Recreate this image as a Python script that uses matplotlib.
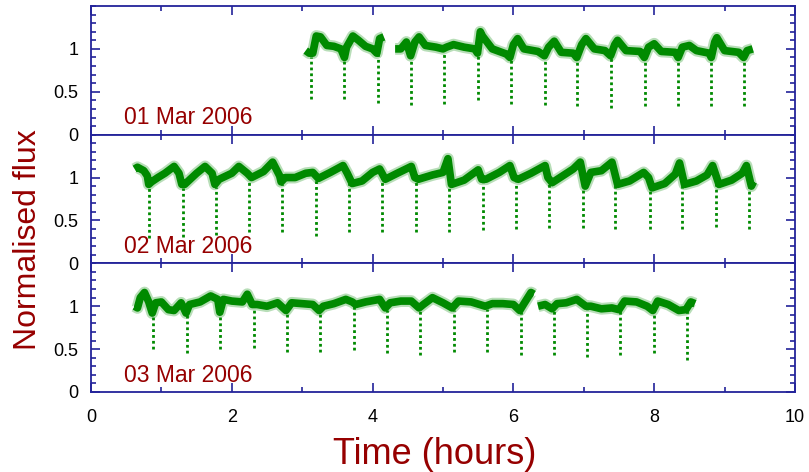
import numpy as np
import matplotlib
matplotlib.use('Agg')
import matplotlib.pyplot as plt
from matplotlib.ticker import MultipleLocator, FixedLocator

plt.rcParams['font.family'] = ['Liberation Sans', 'DejaVu Sans']

# ---------------- data ----------------
dates = ['01 Mar 2006', '02 Mar 2006', '03 Mar 2006']

# out-of-eclipse light curve (centre of the scatter band); nan = data gap
day1_time = [3.05, 3.10, 3.15, 3.20, 3.26, 3.35, 3.45, 3.55, 3.60, 3.63, 3.72, 3.80, 3.90, 4.00,
             4.06, 4.10, 4.16, 4.24, 4.32, 4.40, 4.48, 4.54, 4.60, 4.66, 4.75, 4.90, 5.00, 5.05,
             5.15, 5.30, 5.45, 5.49, 5.53, 5.56, 5.70, 5.90, 5.95, 6.00, 6.06, 6.15, 6.35, 6.44,
             6.50, 6.58, 6.68, 6.85, 6.90, 6.97, 7.03, 7.15, 7.30, 7.38, 7.44, 7.48, 7.60, 7.80,
             7.86, 7.92, 8.00, 8.10, 8.30, 8.34, 8.40, 8.50, 8.60, 8.78, 8.81, 8.86, 8.89, 9.00,
             9.20, 9.27, 9.32, 9.40]
day1_flux = [0.98, 0.95, 0.95, 1.15, 1.14, 1.04, 1.03, 1.00, 0.90, 1.02, 1.15, 1.10, 1.03, 1.00,
             0.95, 1.12, 1.14, np.nan, 1.00, 1.00, 1.08, 0.92, 1.08, 1.14, 1.04, 1.02, 1.00, 1.02,
             1.05, 1.02, 1.00, 0.95, 1.20, 1.15, 1.00, 0.94, 0.90, 1.05, 1.12, 1.00, 0.97, 0.92,
             1.02, 1.09, 0.96, 0.95, 0.90, 1.05, 1.12, 1.00, 0.98, 0.92, 1.05, 1.10, 0.98, 0.97,
             0.90, 1.02, 1.06, 0.97, 0.96, 0.90, 1.02, 1.04, 0.98, 0.95, 0.90, 1.08, 1.13, 0.98,
             0.96, 0.90, 0.98, 1.00]

day2_time = [0.62, 0.66, 0.75, 0.80, 0.82, 0.86, 0.95, 1.05, 1.18, 1.25, 1.29, 1.33, 1.50, 1.62,
             1.72, 1.76, 1.82, 2.00, 2.10, 2.22, 2.28, 2.45, 2.58, 2.68, 2.70, 2.76, 2.90, 3.05,
             3.15, 3.23, 3.40, 3.58, 3.64, 3.71, 3.85, 4.00, 4.10, 4.18, 4.35, 4.55, 4.60, 4.65,
             4.85, 5.00, 5.07, 5.12, 5.30, 5.50, 5.55, 5.61, 5.80, 5.95, 6.01, 6.07, 6.25, 6.45,
             6.49, 6.55, 6.70, 6.85, 6.95, 7.02, 7.10, 7.25, 7.40, 7.48, 7.65, 7.85, 7.92, 7.97,
             8.15, 8.30, 8.36, 8.43, 8.60, 8.75, 8.83, 8.92, 9.10, 9.25, 9.31, 9.38, 9.41]
day2_flux = [1.10, 1.12, 1.08, 1.02, 0.92, 0.95, 1.00, 1.05, 1.13, 1.05, 0.92, 0.92, 1.05, 1.13,
             1.05, 0.92, 0.98, 1.05, 1.13, 1.05, 1.00, 1.07, 1.18, 1.02, 0.95, 1.00, 1.00, 1.05,
             1.06, 0.99, 1.06, 1.14, 1.05, 0.93, 0.96, 1.06, 1.10, 0.98, 1.05, 1.13, 1.00, 0.98,
             1.03, 1.06, 1.22, 0.92, 0.97, 1.09, 0.98, 0.98, 1.06, 1.14, 1.00, 0.98, 1.05, 1.14,
             1.00, 0.94, 1.02, 1.10, 1.18, 0.90, 1.06, 1.08, 1.18, 0.92, 0.96, 1.06, 1.00, 0.88,
             0.93, 1.04, 1.17, 0.92, 0.96, 1.03, 1.14, 0.92, 0.97, 1.05, 1.14, 0.90, 0.95]

day3_time = [0.62, 0.66, 0.70, 0.76, 0.82, 0.87, 0.92, 1.00, 1.10, 1.18, 1.28, 1.35, 1.40, 1.55,
             1.70, 1.80, 1.83, 1.88, 2.00, 2.15, 2.22, 2.29, 2.36, 2.50, 2.65, 2.77, 2.85, 3.00,
             3.15, 3.24, 3.30, 3.45, 3.62, 3.71, 3.76, 3.90, 4.10, 4.18, 4.25, 4.40, 4.55, 4.66,
             4.72, 4.85, 5.00, 5.13, 5.22, 5.40, 5.60, 5.70, 5.85, 6.00, 6.09, 6.15, 6.25, 6.29,
             6.32, 6.35, 6.45, 6.55, 6.62, 6.75, 6.90, 7.03, 7.10, 7.25, 7.40, 7.50, 7.58, 7.75,
             7.90, 7.98, 8.05, 8.20, 8.35, 8.45, 8.52, 8.58]
day3_flux = [1.00, 0.98, 1.10, 1.16, 1.05, 0.92, 1.04, 1.05, 0.96, 0.95, 1.04, 0.92, 1.02, 1.05,
             1.12, 1.08, 0.93, 1.08, 1.06, 1.05, 1.14, 1.02, 1.02, 1.00, 1.04, 0.95, 1.04, 1.03,
             1.02, 0.95, 1.00, 1.03, 1.08, 1.05, 1.02, 1.05, 1.08, 0.98, 1.04, 1.06, 1.06, 0.98,
             1.02, 1.10, 1.04, 0.98, 1.06, 1.05, 1.00, 1.03, 1.03, 1.02, 0.95, 1.03, 1.16, 1.14,
             np.nan, 1.00, 1.02, 0.97, 1.03, 1.04, 1.08, 1.00, 1.00, 0.97, 0.98, 0.96, 1.06, 1.05,
             1.00, 0.95, 1.06, 1.02, 0.95, 0.96, 1.05, 1.03]

# eclipses: mid-eclipse time (hours) and minimum normalised flux
day1_ecl_time = [3.124, 3.60, 4.075, 4.55, 5.02, 5.50, 5.96, 6.45, 6.91, 7.39, 7.865, 8.34, 8.81, 9.28]
day1_ecl_min = [0.41, 0.42, 0.37, 0.35, 0.36, 0.40, 0.36, 0.35, 0.33, 0.31, 0.33, 0.33, 0.33, 0.33]
day2_ecl_time = [0.83, 1.30, 1.77, 2.25, 2.715, 3.195, 3.67, 4.14, 4.61, 5.09, 5.57, 6.03, 6.51,
                 6.985, 7.45, 7.94, 8.40, 8.88, 9.35]
day2_ecl_min = [0.29, 0.31, 0.33, 0.37, 0.37, 0.32, 0.37, 0.37, 0.37, 0.37, 0.39, 0.40, 0.41,
                0.41, 0.40, 0.40, 0.40, 0.42, 0.40]
day3_ecl_time = [0.885, 1.36, 1.835, 2.31, 2.78, 3.25, 3.73, 4.20, 4.68, 5.15, 5.63, 6.105, 6.57,
                 7.05, 7.52, 8.0, 8.47]
day3_ecl_min = [0.50, 0.46, 0.50, 0.51, 0.47, 0.47, 0.49, 0.45, 0.43, 0.47, 0.47, 0.43, 0.43,
                0.41, 0.43, 0.45, 0.37]

x_ticks = [0, 2, 4, 6, 8, 10]
y_ticks = [0, 0.5, 1]
y_ticklabels = ['0', '0.5', '1']

# ---------------- styling ----------------
NAVY = '#23239a'
RED = '#960000'
GREEN = '#008a00'
W, H = 809, 472
fig = plt.figure(figsize=(W / 100, H / 100), dpi=100)

left_px, right_px = 91, 795
top_px, bottom_px = 6, 392
panel_h = (bottom_px - top_px) / 3

days = [(day1_time, day1_flux, day1_ecl_time, day1_ecl_min),
        (day2_time, day2_flux, day2_ecl_time, day2_ecl_min),
        (day3_time, day3_flux, day3_ecl_time, day3_ecl_min)]

for i, (t, f, et, em) in enumerate(days):
    y0 = top_px + i * panel_h
    ax = fig.add_axes([left_px / W, 1 - (y0 + panel_h) / H,
                       (right_px - left_px) / W, panel_h / H])
    t = np.asarray(t)
    f = np.asarray(f)
    et = np.asarray(et)
    em = np.asarray(em)
    # eclipses as dotted columns
    ok = ~np.isnan(f)
    ecl_top = np.interp(et, t[ok], f[ok]) - 0.04
    ax.vlines(et, em, ecl_top, colors=GREEN, linestyles=(0, (1.0, 1.1)), lw=2.0)
    # scatter band
    ax.plot(t, f, color=GREEN, lw=8.5, alpha=0.28, solid_capstyle='butt', solid_joinstyle='round')
    ax.plot(t, f, color=GREEN, lw=5.5, solid_capstyle='butt', solid_joinstyle='round')

    ax.set_xlim(0, 10)
    ax.set_ylim(0, 1.5)
    ax.xaxis.set_major_locator(FixedLocator(x_ticks))
    ax.xaxis.set_minor_locator(MultipleLocator(1))
    ax.yaxis.set_major_locator(FixedLocator(y_ticks))
    ax.set_yticklabels(y_ticklabels)
    ax.yaxis.set_minor_locator(MultipleLocator(0.1))
    ax.tick_params(which='both', direction='in', top=True, right=True, color=NAVY,
                   width=1.2, labelsize=13, labelcolor='black')
    ax.tick_params(which='major', length=6.5)
    ax.tick_params(which='minor', length=3.6)
    ax.tick_params(axis='y', pad=9)
    ax.tick_params(axis='x', pad=12)
    if i < 2:
        ax.tick_params(axis='x', labelbottom=False)
    for s in ax.spines.values():
        s.set_color(NAVY)
        s.set_linewidth(1.3)
    ax.text(0.47, 0.12, dates[i], color=RED, fontsize=16.5, ha='left', va='baseline')

fig.text(28 / W, 1 - 240 / H, 'Normalised flux', rotation=90, color=RED,
         fontsize=23, ha='center', va='center')
fig.text(435 / W, 1 - 455 / H, 'Time (hours)', color=RED,
         fontsize=26, ha='center', va='center')

fig.savefig('out.png', dpi=100)
